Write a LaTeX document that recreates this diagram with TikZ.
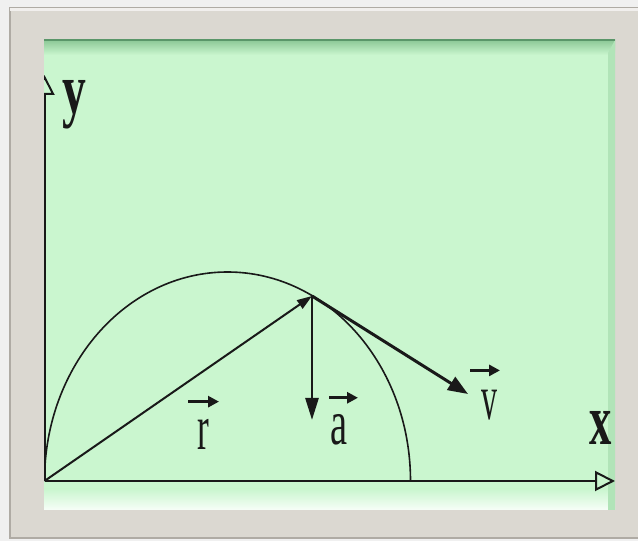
\documentclass[tikz,border=0pt]{standalone}
\usepackage{fontspec}
\setmainfont{Liberation Serif}
\usetikzlibrary{arrows.meta}
\definecolor{mint}{RGB}{202,246,207}
\definecolor{mintdark}{RGB}{140,200,150}
\definecolor{mintedge}{RGB}{90,150,105}
\definecolor{framegray}{RGB}{219,216,209}
\definecolor{frameedge}{RGB}{175,171,164}
\definecolor{outside}{RGB}{240,240,240}
\definecolor{ink}{RGB}{25,25,25}
\tikzset{
  axisline/.style={draw=ink, line width=2.2pt, -{Triangle[length=20pt, width=20pt, fill=mint, line width=2pt]}},
  curveline/.style={draw=ink, line width=1.6pt},
  rvec/.style={draw=ink, line width=2pt, -{Triangle[length=15pt, width=10pt]}},
  avec/.style={draw=ink, line width=2.6pt, -{Triangle[length=22pt, width=13pt]}},
  vvec/.style={draw=ink, line width=3pt, -{Triangle[length=20pt, width=15pt]}},
  overarrow/.style={draw=ink, line width=3.2pt, -{Triangle[length=11pt, width=11pt]}},
  boldlabel/.style={inner sep=0pt, anchor=base, text=ink, font=\fontsize{72}{72}\selectfont\bfseries},
  plainlabel/.style={inner sep=0pt, anchor=base, text=ink, font=\fontsize{64}{64}\selectfont},
}
\begin{document}
\begin{tikzpicture}[x=1pt, y=1pt]
\useasboundingbox (0,0) rectangle (638,541);
% background and frame
\fill[outside] (0,0) rectangle (638,541);
\fill[framegray, draw=frameedge, line width=1.5pt] (10,3) rectangle (640,533);
\fill[white!60!framegray] (10,530) rectangle (640,533);
% green panel
\fill[mint] (44,31) rectangle (615,501);
\shade[top color=mintdark, bottom color=mint] (44,486) rectangle (615,501);
\shade[top color=mint, bottom color=white!85!mint] (44,31) rectangle (615,52);
\fill[mintdark!40!mint] (608,31) -- (615,31) -- (615,501) -- (608,488) -- cycle;
\draw[mintedge, line width=1.2pt] (44,501) -- (615,501);
% named points
\coordinate (O) at (44.5,60);
\coordinate (P) at (312,245);
\coordinate (Atip) at (312,121);
\coordinate (Vtip) at (468,147);
\coordinate (Xtip) at (615,60);
\coordinate (Ytip) at (44.5,466);
\begin{scope}
  \clip (44,31) rectangle (616,501);
  \draw[axisline] (O) -- (Ytip);
  \draw[axisline] (O) -- (Xtip);
  \draw[curveline] (O) arc[start angle=180, end angle=0, x radius=183pt, y radius=209pt];
  \draw[rvec] (O) -- (P);
  \draw[avec] (P) -- (Atip);
  \draw[vvec] (P) -- (Vtip);
\end{scope}
% labels
\node[boldlabel] (ylab) at (74,427) {\scalebox{0.66}[1]{y}};
\node[boldlabel] (xlab) at (601,96) {\scalebox{0.62}[1]{x}};
\node[plainlabel] (rlab) at (203,91) {\scalebox{0.55}[1]{r}};
\node[plainlabel] (alab) at (339,96) {\scalebox{0.6}[1]{a}};
\node[plainlabel] (vlab) at (489,121) {\scalebox{0.5}[1]{v}};
\draw[overarrow] ([xshift=-15pt, yshift=18pt]rlab.north) -- ++(31,0);
\draw[overarrow] ([xshift=-10pt, yshift=17pt]alab.north) -- ++(29,0);
\draw[overarrow] ([xshift=-19pt, yshift=20pt]vlab.north) -- ++(30,0);
\end{tikzpicture}
\end{document}
